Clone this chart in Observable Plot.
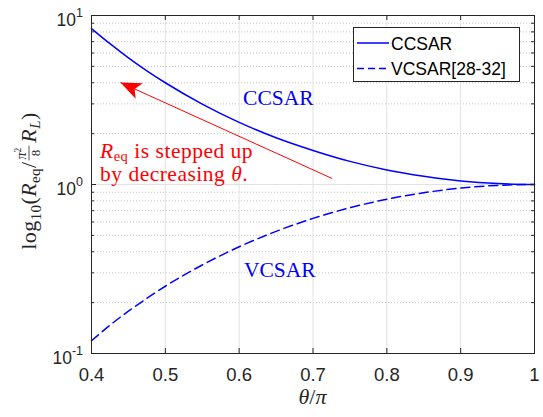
<!DOCTYPE html>
<html><head><meta charset="utf-8">
<script src="https://cdn.jsdelivr.net/npm/d3@7"></script>
<script src="https://cdn.jsdelivr.net/npm/@observablehq/plot@0.6"></script>
<style>body{margin:0;background:#fff} svg{display:block}</style>
</head><body><div id="chart"></div>
<script>
// ---- data ----
const theta = [0.40, 0.425, 0.45, 0.475, 0.50, 0.55, 0.60, 0.65, 0.70, 0.75, 0.80, 0.85, 0.90, 0.95, 1.00];
const ccsar = [8.37, 6.81, 5.62, 4.71, 4.00, 2.99, 2.33, 1.89, 1.59, 1.37, 1.22, 1.12, 1.05, 1.012, 1.00];
const vcsar = [0.119, 0.147, 0.178, 0.212, 0.250, 0.334, 0.428, 0.528, 0.630, 0.729, 0.818, 0.894, 0.952, 0.988, 1.00];
const seriesNames = ["CCSAR", "VCSAR[28-32]"];
const xTicks = [0.4, 0.5, 0.6, 0.7, 0.8, 0.9, 1];
const yMajor = [0.1, 1, 10];
const yExponents = ["-1", "0", "1"];
const yMinor = [0.2, 0.3, 0.4, 0.5, 0.6, 0.7, 0.8, 0.9, 2, 3, 4, 5, 6, 7, 8, 9];
const curveLabels = ["CCSAR", "VCSAR"];
const noteLines = ["is stepped up", "by decreasing "];

// annotation anchors (data coordinates)
const curveLabelPos = [{t: 0.653, v: 3.23}, {t: 0.655, v: 0.31}];
const arrowPos = {x1: 0.726, y1: 1.085, x2: 0.4393, y2: 4.01};
const notePos = {t: 0.4122, v: 1.425};

const W = 543, H = 417, mL = 91, mR = 9, mT = 15, mB = 64;
const pw = W - mL - mR, ph = H - mT - mB;
const rows = theta.map((t, i) => ({t, c: ccsar[i], v: vcsar[i]}));

const ang = -65.7 * Math.PI / 180;
const headSymbol = {
  draw(ctx) {
    const pts = [[0, 0], [8.6, 20.5], [0, 15.5], [-8.6, 20.5]];
    pts.forEach(([x, y], i) => {
      const rx = x * Math.cos(ang) - y * Math.sin(ang);
      const ry = x * Math.sin(ang) + y * Math.cos(ang);
      i ? ctx.lineTo(rx, ry) : ctx.moveTo(rx, ry);
    });
    ctx.closePath();
  }
};

const serif = "'Liberation Serif','Times New Roman',serif";
const sans = "'Liberation Sans',Arial,Helvetica,sans-serif";

const chart = Plot.plot({
  width: W, height: H,
  marginLeft: mL, marginRight: mR, marginTop: mT, marginBottom: mB,
  style: {fontFamily: sans, fontSize: "18.5px", background: "#fff", color: "#262626"},
  x: {domain: [0.4, 1]},
  y: {type: "log", domain: [0.1, 10], axis: null},
  marks: [
    Plot.ruleY(yMinor, {stroke: "#c4c4c4", strokeDasharray: "1,2"}),
    Plot.ruleX(xTicks.slice(1, -1), {stroke: "#e2e2e2"}),
    Plot.ruleY([1], {stroke: "#e2e2e2"}),
    Plot.line(rows, {x: "t", y: "c", stroke: "#0000ff", strokeWidth: 1.5, curve: "monotone-x"}),
    Plot.line(rows, {x: "t", y: "v", stroke: "#0000ff", strokeWidth: 1.5, strokeDasharray: "9,5", curve: "monotone-x"}),
    Plot.link([arrowPos], {x1: "x1", y1: "y1", x2: "x2", y2: "y2", stroke: "#ff0000", strokeWidth: 1}),
    Plot.dot([arrowPos], {x: "x2", y: "y2", symbol: headSymbol, fill: "#ff0000", stroke: "none", r: 5}),
    Plot.text(curveLabelPos, {x: "t", y: "v", text: (d, i) => curveLabels[i], fill: "#0000ff",
      fontFamily: serif, fontSize: 21.5, textAnchor: "middle", lineAnchor: "middle"}),
    // inward ticks
    Plot.ruleX(xTicks, {insetTop: ph - 5, stroke: "#262626"}),
    Plot.ruleX(xTicks, {insetBottom: ph - 5, stroke: "#262626"}),
    Plot.ruleY(yMajor, {insetRight: pw - 5, stroke: "#262626"}),
    Plot.ruleY(yMajor, {insetLeft: pw - 5, stroke: "#262626"}),
    Plot.ruleY(yMinor, {insetRight: pw - 3, stroke: "#262626"}),
    Plot.ruleY(yMinor, {insetLeft: pw - 3, stroke: "#262626"}),
    Plot.frame({stroke: "#262626"}),
    Plot.axisX({ticks: xTicks, tickSize: 0, tickPadding: 14, tickFormat: d => `${d}`, label: null, fill: "#262626"})
  ]
});
document.getElementById("chart").appendChild(chart);

const svg = d3.select(chart);
const sx = chart.scale("x"), sy = chart.scale("y");

// y tick labels 10^n
yMajor.forEach((v, i) => {
  const t = svg.append("text").attr("x", mL - 8).attr("y", sy.apply(v) + 11)
    .attr("text-anchor", "end").attr("font-family", sans).attr("font-size", 17.5).attr("fill", "#262626");
  t.append("tspan").text("10");
  t.append("tspan").attr("font-size", 12.5).attr("dy", -9).text(yExponents[i]);
});

// x label θ/π
const xl = svg.append("text").attr("x", (mL + W - mR) / 2).attr("y", 404).attr("text-anchor", "middle")
  .attr("font-family", serif).attr("font-size", 22).attr("fill", "#262626");
xl.append("tspan").attr("font-style", "italic").text("θ");
xl.append("tspan").text("/");
xl.append("tspan").attr("font-style", "italic").text("π");

// y label log10(Req / (π²/8) RL)
const gy = svg.append("g").attr("font-family", serif).attr("fill", "#262626").attr("text-anchor", "start");
const t1 = gy.append("text").attr("font-size", 22).attr("letter-spacing", 0.4);
t1.append("tspan").text("log");
t1.append("tspan").attr("font-size", 15).attr("dy", 5).text("10");
t1.append("tspan").attr("dy", -5).text("(");
t1.append("tspan").attr("font-style", "italic").text("R");
t1.append("tspan").attr("font-size", 15).attr("dy", 4).text("eq");
t1.append("tspan").attr("dy", -4).text("/");
const w1 = t1.node().getComputedTextLength();
const num = gy.append("text").attr("x", w1 + 2).attr("y", -10).attr("font-size", 14);
num.append("tspan").attr("font-style", "italic").text("π");
num.append("tspan").attr("font-size", 9.5).attr("dy", -5).text("2");
const fw = num.node().getComputedTextLength() + 3;
gy.append("line").attr("x1", w1 + 1).attr("x2", w1 + 1 + fw).attr("y1", -7).attr("y2", -7).attr("stroke", "#262626").attr("stroke-width", 0.8);
gy.append("text").attr("x", w1 + 1 + fw / 2).attr("y", 4).attr("text-anchor", "middle").attr("font-size", 13).text("8");
const t3 = gy.append("text").attr("x", w1 + fw + 4).attr("font-size", 22).attr("letter-spacing", 0.4);
t3.append("tspan").attr("font-style", "italic").text("R");
t3.append("tspan").attr("font-size", 15).attr("font-style", "italic").attr("dy", 4).text("L");
t3.append("tspan").attr("dy", -4).text(")");
const L = w1 + fw + 4 + t3.node().getComputedTextLength();
gy.attr("transform", `translate(36,${181 + L / 2}) rotate(-90)`);

// red note
const nx = sx.apply(notePos.t), ny = sy.apply(notePos.v);
const ng = svg.append("g").attr("font-family", serif).attr("font-size", 21.5).attr("fill", "#ff0000")
  .attr("text-anchor", "start").attr("letter-spacing", 0.5);
const n1 = ng.append("text").attr("x", nx).attr("y", ny);
n1.append("tspan").attr("font-style", "italic").text("R");
n1.append("tspan").attr("font-size", 14.5).attr("dy", 3).text("eq");
n1.append("tspan").attr("dy", -3).attr("dx", 6).text(noteLines[0]);
const n2 = ng.append("text").attr("x", nx).attr("y", ny + 22.5);
n2.append("tspan").text(noteLines[1]);
n2.append("tspan").attr("font-style", "italic").text("θ");
n2.append("tspan").text(".");

// legend
const lg = svg.append("g").attr("text-anchor", "start");
lg.append("rect").attr("x", 353.5).attr("y", 27.5).attr("width", 166).attr("height", 54)
  .attr("fill", "#fff").attr("stroke", "#262626").attr("stroke-width", 1);
[[43, null], [68.5, "7,4"]].forEach(([y, dash], i) => {
  lg.append("line").attr("x1", 357).attr("x2", 389).attr("y1", y).attr("y2", y)
    .attr("stroke", "#0000ff").attr("stroke-width", 1.5).attr("stroke-dasharray", dash);
  lg.append("text").attr("x", 391).attr("y", y + 6.5).attr("font-family", sans).attr("font-size", 17.5)
    .attr("fill", "#000").text(seriesNames[i]);
});
</script>
</body></html>
